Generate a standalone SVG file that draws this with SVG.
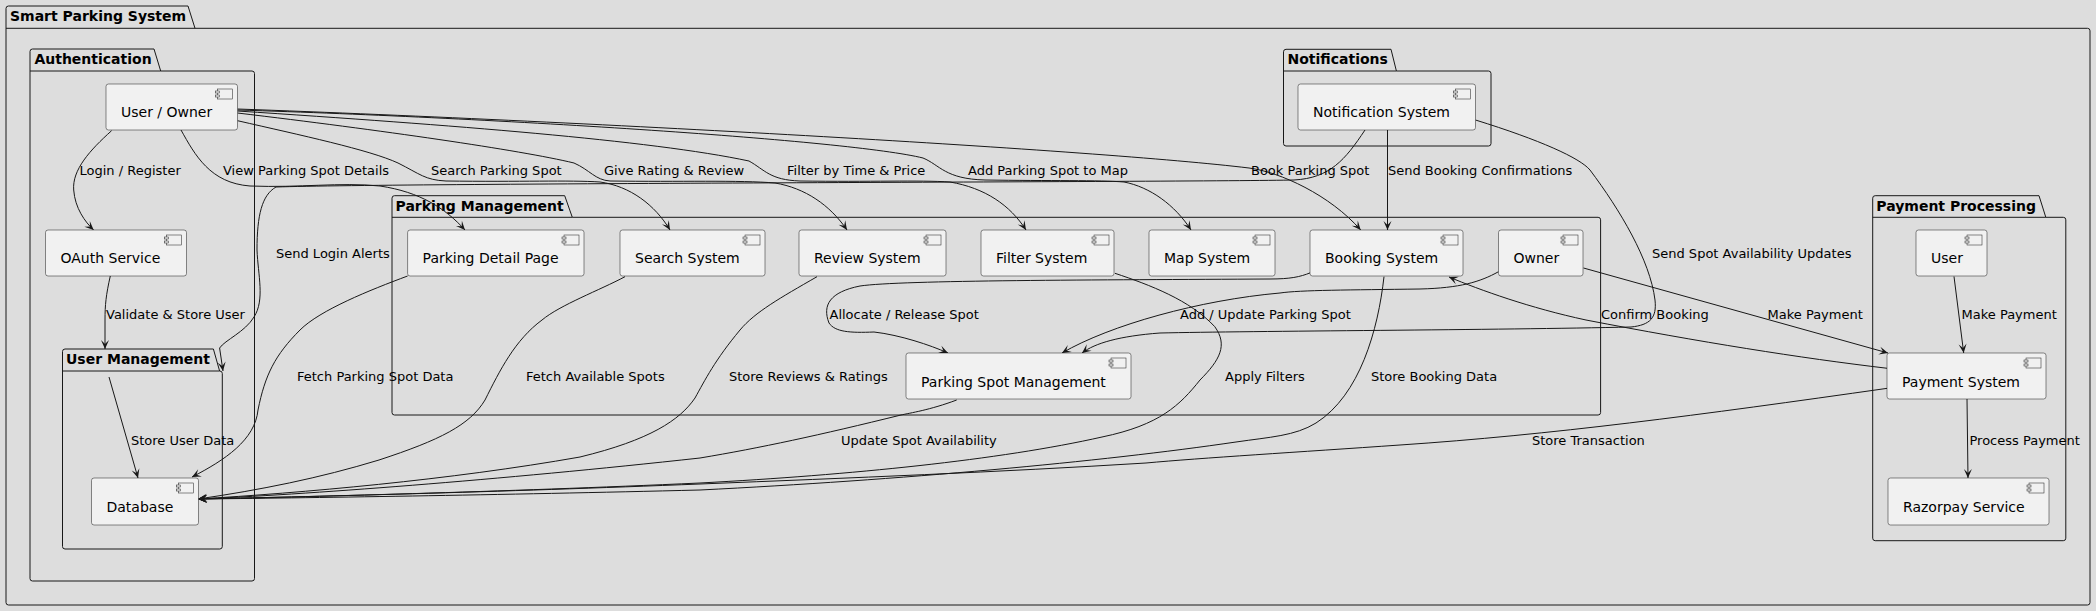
<svg xmlns="http://www.w3.org/2000/svg" xmlns:xlink="http://www.w3.org/1999/xlink" width="2096" height="611" viewBox="0 0 2096 611">
<style>
.pkg{fill:none;stroke:#181818;stroke-width:1}
.pt{font-family:"DejaVu Sans","Liberation Sans",sans-serif;font-size:14px;font-weight:bold;fill:#000}
.box{fill:#F1F1F1;stroke:#181818;stroke-width:0.5}
.ct{font-family:"DejaVu Sans","Liberation Sans",sans-serif;font-size:14px;fill:#000}
.e{fill:none;stroke:#181818;stroke-width:1;marker-end:url(#ah)}
.lbl{font-family:"DejaVu Sans","Liberation Sans",sans-serif;font-size:13px;fill:#000}
</style>
<defs>
<marker id="ah" viewBox="-10 -5 11 10" refX="0" refY="0" markerWidth="11" markerHeight="10" markerUnits="userSpaceOnUse" orient="auto">
<path d="M0,0 L-9,-4 L-5,0 L-9,4 Z" fill="#181818"/>
</marker>
<g id="ico">
<rect x="0" y="0" width="15" height="10" fill="#F1F1F1" stroke="#181818" stroke-width="0.5"/>
<rect x="-2" y="2" width="4" height="2" fill="#F1F1F1" stroke="#181818" stroke-width="0.5"/>
<rect x="-2" y="6" width="4" height="2" fill="#F1F1F1" stroke="#181818" stroke-width="0.5"/>
</g>
</defs>
<rect x="0" y="0" width="2096" height="611" fill="#DDDDDD"/>

<g id="pkg-smart">
<path class="pkg" d="M6,8.5 Q6,6 8.5,6 L188,6 L195,28.3 L2087.5,28.3 Q2090,28.3 2090,30.8 L2090,602.5 Q2090,605 2087.5,605 L8.5,605 Q6,605 6,602.5 Z M6,28.3 L195,28.3"/>
<text class="pt" x="10" y="21">Smart Parking System</text>
</g>
<g id="pkg-auth">
<path class="pkg" d="M30,51.5 Q30,49 32.5,49 L154,49 L160.7,71 L252,71 Q254.5,71 254.5,73.5 L254.5,578.5 Q254.5,581 252,581 L32.5,581 Q30,581 30,578.5 Z M30,71 L160.7,71"/>
<text class="pt" x="34.4" y="64">Authentication</text>
</g>
<g id="pkg-usermgmt">
<path class="pkg" d="M62.5,351.5 Q62.5,349 65,349 L213.4,349 L219.6,371 L219.8,371 Q222.3,371 222.3,373.5 L222.3,546.5 Q222.3,549 219.8,549 L65,549 Q62.5,549 62.5,546.5 Z M62.5,371 L219.6,371"/>
<text class="pt" x="66" y="364">User Management</text>
</g>
<g id="pkg-parking">
<path class="pkg" d="M392,198.2 Q392,195.7 394.5,195.7 L564.7,195.7 L572.3,217.3 L1598.1,217.3 Q1600.6,217.3 1600.6,219.8 L1600.6,412.5 Q1600.6,415 1598.1,415 L394.5,415 Q392,415 392,412.5 Z M392,217.3 L572.3,217.3"/>
<text class="pt" x="395.5" y="210.7">Parking Management</text>
</g>
<g id="pkg-notif">
<path class="pkg" d="M1283.5,51.8 Q1283.5,49.3 1286,49.3 L1391,49.3 L1396.4,71 L1488.5,71 Q1491,71 1491,73.5 L1491,143.5 Q1491,146 1488.5,146 L1286,146 Q1283.5,146 1283.5,143.5 Z M1283.5,71 L1396.4,71"/>
<text class="pt" x="1287.5" y="64.3">Notifications</text>
</g>
<g id="pkg-payment">
<path class="pkg" d="M1872.7,198.2 Q1872.7,195.7 1875.2,195.7 L2039,195.7 L2045.8,217.3 L2063.3,217.3 Q2065.8,217.3 2065.8,219.8 L2065.8,538.2 Q2065.8,540.7 2063.3,540.7 L1875.2,540.7 Q1872.7,540.7 1872.7,538.2 Z M1872.7,217.3 L2045.8,217.3"/>
<text class="pt" x="1876.3" y="210.7">Payment Processing</text>
</g>

<g id="connectors">
<path class="e" d="M111.6,130.7 C90,150 72,170 73.7,190 C75,208 85,222 93.7,230"/>
<path class="e" d="M110.3,276 C106,295 105,305 105,320 L105,349"/>
<path class="e" d="M109,377 L138,478"/>
<path class="e" d="M181,130 C195,155 210,183 250,186 C300,188 340,182 380,186 C420,192 445,208 465,230"/>
<path class="e" d="M237.5,120.7 C300,135 370,150 398,163 C420,174 425,180 446,181 C520,182 570,180 600,182 C630,186 655,205 670,230"/>
<path class="e" d="M237.5,113 C380,130 520,150 574,163 C590,170 595,180 610,181 C680,182 740,180 775,183 C805,188 830,205 847,230"/>
<path class="e" d="M237.5,111 C450,125 650,140 749,161 C765,170 770,180 800,181 C870,182 920,180 950,182 C985,188 1010,205 1026,230"/>
<path class="e" d="M237.5,110 C500,118 850,140 923,158 C940,165 945,179 985,180 C1050,181 1100,180 1124,182 C1150,187 1175,205 1191,230"/>
<path class="e" d="M237.5,109 C600,122 1100,150 1249,168 C1280,172 1330,195 1360.7,230"/>
<path class="e" d="M1365,130 C1345,160 1330,178 1294,180 C1200,182 400,183 276,187 C262,195 257,215 257,250 C258,275 265,300 254,317 C245,332 225,340 219.6,348 L223,371"/>
<path class="e" d="M1387.5,130 L1387.5,230"/>
<path class="e" d="M1475.5,120 C1540,140 1580,158 1590,170 C1620,210 1650,260 1655,300 C1657,318 1650,325 1631,327 C1500,330 1250,331 1160,333 C1120,336 1095,343 1082,353"/>
<path class="e" d="M1310.5,272.7 C1300,277 1290,279 1270,279 C1100,280 900,280 860,286 C830,292 822,305 829,323 C835,332 850,333 874,332 C900,335 930,345 948,353"/>
<path class="e" d="M1498.5,271.7 C1480,282 1460,288 1420,289 C1350,290 1300,290 1280,293 C1200,300 1110,325 1062,353"/>
<path class="e" d="M1115,273.3 C1150,285 1190,300 1214.8,326.7 C1228,345 1220,360 1200,380 C1180,405 1160,425 1102,437 C1000,460 850,475 700,483 C500,492 300,497 198,499"/>
<path class="e" d="M1384,276.7 C1378,330 1360,395 1316,423 C1295,436 1270,437 1236,442 C1100,462 900,480 700,490 C500,495 300,498 198,499"/>
<path class="e" d="M956.7,400 C930,410 910,413 901,415 C820,435 760,448 700,458 C500,480 300,495 198,499"/>
<path class="e" d="M817,276.7 C780,298 755,312 740,330 C715,360 705,380 695,398 C680,420 650,440 580,457 C450,480 300,493 198,499"/>
<path class="e" d="M625,276.7 C600,290 560,305 542,320 C515,340 500,370 485,400 C470,425 440,440 379,460 C320,478 260,490 198,499"/>
<path class="e" d="M407.6,276 C370,290 320,310 300,330 C275,355 265,375 258,410 C255,440 225,460 192,477"/>
<path class="e" d="M1583.5,268 L1888,353"/>
<path class="e" d="M1954,276.5 L1963.7,353"/>
<path class="e" d="M1967,399 L1968,478"/>
<path class="e" d="M1887.4,368.3 C1800,358 1700,342 1586,320 C1530,308 1480,290 1449,277"/>
<path class="e" d="M1887.4,388.3 C1700,415 1550,435 1400,445 C1300,452 1200,458 1146,463 C1000,472 850,478 700,484 C500,492 300,497 198,499"/>

<text class="lbl" x="79.5" y="175">Login / Register</text>
<text class="lbl" x="223" y="175">View Parking Spot Details</text>
<text class="lbl" x="431" y="175">Search Parking Spot</text>
<text class="lbl" x="604" y="175">Give Rating &amp; Review</text>
<text class="lbl" x="787" y="175">Filter by Time &amp; Price</text>
<text class="lbl" x="968" y="175">Add Parking Spot to Map</text>
<text class="lbl" x="1251" y="175">Book Parking Spot</text>
<text class="lbl" x="1388" y="175">Send Booking Confirmations</text>
<text class="lbl" x="276" y="257.8">Send Login Alerts</text>
<text class="lbl" x="1652" y="257.8">Send Spot Availability Updates</text>
<text class="lbl" x="106" y="318.8">Validate &amp; Store User</text>
<text class="lbl" x="829.5" y="318.8">Allocate / Release Spot</text>
<text class="lbl" x="1180" y="318.8">Add / Update Parking Spot</text>
<text class="lbl" x="1601" y="318.8">Confirm Booking</text>
<text class="lbl" x="1767.5" y="318.8">Make Payment</text>
<text class="lbl" x="1961.5" y="318.8">Make Payment</text>
<text class="lbl" x="297" y="380.8">Fetch Parking Spot Data</text>
<text class="lbl" x="526" y="380.8">Fetch Available Spots</text>
<text class="lbl" x="729" y="380.8">Store Reviews &amp; Ratings</text>
<text class="lbl" x="1225" y="380.8">Apply Filters</text>
<text class="lbl" x="1371" y="380.8">Store Booking Data</text>
<text class="lbl" x="131" y="444.8">Store User Data</text>
<text class="lbl" x="841" y="444.8">Update Spot Availability</text>
<text class="lbl" x="1532" y="444.8">Store Transaction</text>
<text class="lbl" x="1969.5" y="444.8">Process Payment</text>
</g>

<g id="n-userowner"><rect class="box" x="106" y="84" width="131.5" height="46" rx="2.5"/><use href="#ico" x="217.5" y="89"/><text class="ct" x="121" y="117">User / Owner</text></g>
<g id="n-oauth"><rect class="box" x="45.5" y="230" width="141" height="46" rx="2.5"/><use href="#ico" x="166.5" y="235"/><text class="ct" x="60.5" y="263">OAuth Service</text></g>
<g id="n-database"><rect class="box" x="91.5" y="478" width="107" height="47" rx="2.5"/><use href="#ico" x="178.5" y="483"/><text class="ct" x="106.5" y="512">Database</text></g>
<g id="n-detail"><rect class="box" x="407.6" y="230" width="176.4" height="46" rx="2.5"/><use href="#ico" x="564" y="235"/><text class="ct" x="422.6" y="263">Parking Detail Page</text></g>
<g id="n-search"><rect class="box" x="620" y="230" width="145" height="46" rx="2.5"/><use href="#ico" x="745" y="235"/><text class="ct" x="635" y="263">Search System</text></g>
<g id="n-review"><rect class="box" x="799" y="230" width="147" height="46" rx="2.5"/><use href="#ico" x="926" y="235"/><text class="ct" x="814" y="263">Review System</text></g>
<g id="n-filter"><rect class="box" x="981" y="230" width="133" height="46" rx="2.5"/><use href="#ico" x="1094" y="235"/><text class="ct" x="996" y="263">Filter System</text></g>
<g id="n-map"><rect class="box" x="1149" y="230" width="126" height="46" rx="2.5"/><use href="#ico" x="1255" y="235"/><text class="ct" x="1164" y="263">Map System</text></g>
<g id="n-booking"><rect class="box" x="1310" y="230" width="153" height="46" rx="2.5"/><use href="#ico" x="1443" y="235"/><text class="ct" x="1325" y="263">Booking System</text></g>
<g id="n-owner"><rect class="box" x="1498.5" y="230" width="84.5" height="46" rx="2.5"/><use href="#ico" x="1563" y="235"/><text class="ct" x="1513.5" y="263">Owner</text></g>
<g id="n-psm"><rect class="box" x="906" y="353" width="225" height="46" rx="2.5"/><use href="#ico" x="1111" y="358"/><text class="ct" x="921" y="387">Parking Spot Management</text></g>
<g id="n-notif"><rect class="box" x="1298" y="84" width="177.5" height="46" rx="2.5"/><use href="#ico" x="1455.5" y="89"/><text class="ct" x="1313" y="117">Notification System</text></g>
<g id="n-payuser"><rect class="box" x="1916" y="230" width="71" height="46" rx="2.5"/><use href="#ico" x="1967" y="235"/><text class="ct" x="1931" y="263">User</text></g>
<g id="n-payment"><rect class="box" x="1887" y="353" width="159" height="46" rx="2.5"/><use href="#ico" x="2026" y="358"/><text class="ct" x="1902" y="387">Payment System</text></g>
<g id="n-razorpay"><rect class="box" x="1888" y="478" width="161" height="47" rx="2.5"/><use href="#ico" x="2029" y="483"/><text class="ct" x="1903" y="512">Razorpay Service</text></g>
</svg>
